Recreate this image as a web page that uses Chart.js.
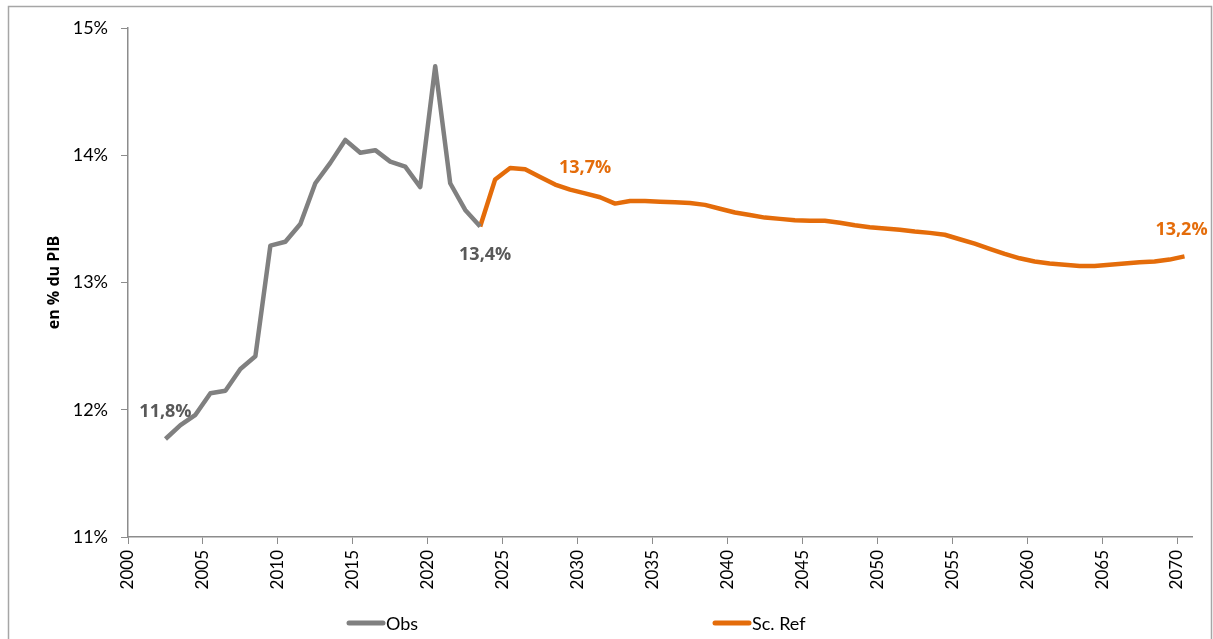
<!DOCTYPE html>
<html>
<head>
<meta charset="utf-8">
<script src="https://cdn.jsdelivr.net/npm/chart.js@4/dist/chart.umd.min.js"></script>
<style>
  html, body { margin: 0; padding: 0; background: #fff; }
  #wrap { position: absolute; left: 0; top: 0; width: 1213px; height: 639px; }
</style>
</head>
<body>
<div id="wrap"><canvas id="myChart" width="1213" height="639"></canvas></div>
<script>
// data (share of GDP, %)
var obsYears = [2002, 2003, 2004, 2005, 2006, 2007, 2008, 2009, 2010, 2011, 2012,
  2013, 2014, 2015, 2016, 2017, 2018, 2019, 2020, 2021, 2022, 2023];
var obsValues = [11.77, 11.88, 11.96, 12.13, 12.15, 12.32, 12.42, 13.29, 13.32, 13.46, 13.78,
  13.94, 14.12, 14.02, 14.04, 13.95, 13.91, 13.75, 14.70, 13.78, 13.57, 13.44];

var refYears = [2023, 2024, 2025, 2026, 2027, 2028, 2029, 2030, 2031, 2032, 2033, 2034,
  2035, 2036, 2037, 2038, 2039, 2040, 2041, 2042, 2043, 2044, 2045, 2046, 2047, 2048, 2049,
  2050, 2051, 2052, 2053, 2054, 2055, 2056, 2057, 2058, 2059, 2060, 2061, 2062, 2063, 2064,
  2065, 2066, 2067, 2068, 2069, 2070];
var refValues = [13.44, 13.81, 13.90, 13.89, 13.83, 13.77, 13.73, 13.70, 13.67, 13.62, 13.64, 13.64,
  13.635, 13.63, 13.625, 13.61, 13.58, 13.55, 13.53, 13.51, 13.50, 13.49, 13.485, 13.485, 13.47, 13.45, 13.435,
  13.425, 13.415, 13.40, 13.39, 13.375, 13.34, 13.305, 13.265, 13.225, 13.19, 13.165, 13.15, 13.14, 13.13, 13.13,
  13.14, 13.15, 13.16, 13.165, 13.18, 13.205];

var xTicks = [2000, 2005, 2010, 2015, 2020, 2025, 2030, 2035, 2040, 2045, 2050, 2055, 2060, 2065, 2070];
var yTicks = [11, 12, 13, 14, 15];

var seriesNames = ["Obs", "Sc. Ref"];
var lineColors = ["#808080", "#E46C0A"];
var labelColors = ["#595959", "#E46C0A"];

// years that get a value label
var obsLabelYears = [2002, 2023];
var refLabelYears = [2030, 2070];

var FONT = "Lato, 'Open Sans', sans-serif";
var BOLD = "'Open Sans', Lato, sans-serif";

function toPoints(years, vals) {
  // each year sits in the middle of its slot
  return years.map(function (y, i) { return { x: y + 0.5, y: vals[i] }; });
}

function fr(v) {
  return v.toFixed(1).replace(".", ",") + "%";
}

var extras = {
  id: "extras",
  beforeDraw: function (chart) {
    var ctx = chart.ctx;
    ctx.save();
    ctx.strokeStyle = "#a6a6a6";
    ctx.lineWidth = 1.5;
    ctx.strokeRect(8.5, 6.5, 1203, 640);
    ctx.restore();
  },
  afterDatasetsDraw: function (chart) {
    var ctx = chart.ctx;
    var xs = chart.scales.x, ys = chart.scales.y;
    ctx.save();
    ctx.font = "bold 18px " + BOLD;
    ctx.textAlign = "center";
    ctx.textBaseline = "middle";

    function lab(years, vals, yr, color, dx, dy) {
      var i = years.indexOf(yr);
      var px = xs.getPixelForValue(yr + 0.5);
      var py = ys.getPixelForValue(vals[i]);
      ctx.fillStyle = color;
      ctx.fillText(fr(vals[i]), px + dx, py + dy);
    }
    lab(obsYears, obsValues, obsLabelYears[0], labelColors[0], 0, -27);
    lab(obsYears, obsValues, obsLabelYears[1], labelColors[0], 5, 28);
    lab(refYears, refValues, refLabelYears[0], labelColors[1], 0, -26);
    lab(refYears, refValues, refLabelYears[1], labelColors[1], -3, -27);

    // legend
    var legendX = [347, 713];
    ctx.font = "18px " + FONT;
    ctx.textAlign = "left";
    ctx.lineCap = "round";
    for (var k = 0; k < 2; k++) {
      ctx.strokeStyle = lineColors[k];
      ctx.lineWidth = 5;
      ctx.beginPath();
      ctx.moveTo(legendX[k] + 2, 623);
      ctx.lineTo(legendX[k] + 36, 623);
      ctx.stroke();
      ctx.fillStyle = "#000";
      ctx.fillText(seriesNames[k], legendX[k] + 39, 624);
    }
    ctx.restore();
  }
};

new Chart("myChart", {
  type: "line",
  data: {
    datasets: [{
      label: seriesNames[0],
      data: toPoints(obsYears, obsValues),
      borderColor: lineColors[0],
      backgroundColor: lineColors[0],
      borderWidth: 4.5,
      pointRadius: 0,
      borderJoinStyle: "round",
      tension: 0
    }, {
      label: seriesNames[1],
      data: toPoints(refYears, refValues),
      borderColor: lineColors[1],
      backgroundColor: lineColors[1],
      borderWidth: 4.5,
      pointRadius: 0,
      borderJoinStyle: "round",
      tension: 0
    }]
  },
  options: {
    responsive: false,
    animation: false,
    devicePixelRatio: 1,
    layout: { padding: { left: 0, top: 28, right: 21, bottom: 0 } },
    plugins: {
      legend: { display: false },
      tooltip: { enabled: false }
    },
    scales: {
      x: {
        type: "linear",
        min: 2000,
        max: 2071,
        afterBuildTicks: function (s) {
          s.ticks = xTicks.map(function (v) { return { value: v }; });
        },
        afterFit: function (s) { s.height = 102; },
        grid: { drawOnChartArea: false, drawTicks: true, tickLength: 7, color: "#8c8c8c" },
        border: { color: "#8c8c8c", width: 1.5 },
        ticks: {
          autoSkip: false,
          minRotation: 90,
          maxRotation: 90,
          padding: 6,
          color: "#000",
          font: { family: FONT, size: 17 },
          callback: function (v) { return String(v); }
        }
      },
      y: {
        min: yTicks[0],
        max: yTicks[yTicks.length - 1],
        afterBuildTicks: function (s) {
          s.ticks = yTicks.map(function (v) { return { value: v }; });
        },
        afterFit: function (s) { s.width = 128; },
        grid: { drawOnChartArea: false, drawTicks: true, tickLength: 7, color: "#8c8c8c" },
        border: { color: "#8c8c8c", width: 1.5 },
        title: {
          display: true,
          text: "en % du PIB",
          color: "#000",
          font: { family: BOLD, size: 16, weight: "bold" },
          padding: { top: 45, bottom: 0 }
        },
        ticks: {
          padding: 13,
          color: "#000",
          font: { family: FONT, size: 18 },
          callback: function (v) { return v + "%"; }
        }
      }
    }
  },
  plugins: [extras]
});
</script>
</body>
</html>
